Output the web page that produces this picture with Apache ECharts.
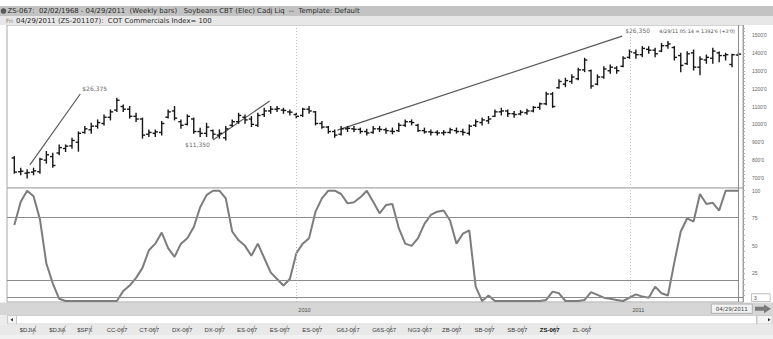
<!DOCTYPE html>
<html>
<head>
<meta charset="utf-8">
<script src="https://cdn.jsdelivr.net/npm/echarts@6.0.0/dist/echarts.min.js"></script>
<style>
  html, body { margin: 0; padding: 0; background: #ffffff; }
  #chart { width: 773px; height: 339px; }
</style>
</head>
<body>
<div id="chart"></div>
<script>
// Weekly soybean bars (ZS-067), first bar dated Friday 2009-02-27
const firstBar = [2009, 1, 27];

const opens = [812,735,727,733,735,800,820,840,865,880,900,955,970,990,1005,1040,1080,1100,1085,1045,
  1030,945,950,955,1040,1075,1015,1000,1030,960,950,965,940,925,995,1015,1040,1030,995,1055,
  1075,1085,1080,1070,1055,1050,1085,1070,1005,985,960,945,975,975,972,960,955,975,970,962,
  965,995,1015,995,965,958,955,952,955,965,960,950,995,1010,1020,1045,1070,1075,1060,1058,
  1065,1075,1095,1115,1170,1205,1225,1240,1255,1305,1300,1225,1265,1300,1315,1325,1375,1400,1390,1420,
  1415,1410,1440,1430,1385,1340,1400,1320,1360,1370,1400,1385,1335,1388];
const highs = [820,755,746,755,811,848,838,885,885,923,958,988,1006,1025,1053,1081,1146,1109,1100,1062,
  1035,969,969,1016,1081,1100,1025,1053,1035,979,1006,969,969,988,1025,1062,1053,1044,1062,1090,
  1100,1100,1090,1081,1062,1090,1100,1072,1016,988,969,988,988,988,979,973,988,988,979,979,
  1006,1025,1025,1000,979,969,965,965,979,979,973,997,1025,1035,1044,1081,1090,1081,1072,1077,
  1085,1100,1120,1180,1178,1249,1258,1277,1314,1370,1304,1277,1323,1332,1323,1379,1416,1416,1435,1435,
  1426,1453,1463,1435,1398,1407,1416,1379,1388,1426,1405,1398,1392,1400];
const lows = [727,718,700,718,727,783,760,830,848,867,850,951,951,979,997,1025,1072,1072,1035,1016,
  923,932,932,941,1035,1025,979,997,951,932,932,923,923,913,988,1006,1006,988,988,1044,
  1062,1072,1062,1053,1035,1044,1062,997,979,951,928,940,960,960,951,941,951,960,951,947,
  960,988,997,960,951,941,941,941,951,951,941,941,988,997,1006,1044,1053,1044,1040,1053,
  1057,1070,1085,1110,1095,1202,1211,1230,1249,1295,1202,1221,1258,1286,1286,1323,1370,1370,1379,1398,
  1379,1407,1426,1360,1295,1335,1304,1277,1342,1342,1351,1360,1323,1385];
const closes = [733,738,730,740,805,830,770,870,878,910,950,975,990,1010,1040,1070,1135,1085,1045,1030,
  940,955,958,1005,1070,1035,995,1045,960,950,985,945,950,975,1015,1050,1025,1000,1050,1075,
  1085,1088,1078,1068,1045,1085,1075,1005,985,960,940,975,978,972,960,952,975,972,965,960,
  995,1015,1010,965,958,955,952,955,970,960,955,990,1015,1025,1030,1070,1075,1060,1055,1068,
  1075,1095,1115,1170,1100,1240,1245,1265,1305,1360,1215,1265,1310,1320,1300,1370,1405,1390,1425,1415,
  1395,1440,1450,1375,1330,1395,1320,1365,1375,1410,1385,1390,1389.75,1392.75];

// COT Commercials Index, one reading per weekly bar
const cotIndex = [69,90,100,95,74,34,16,2,0,0,0,0,0,0,0,0,0,9,14,21,
  30,46,52,62,48,40,52,57,67,85,96,100,100,93,63,55,50,41,52,39,
  26,20,14,20,43,52,57,81,93,100,100,97,88.5,89.5,94,100,90,79.5,87,88,
  66,52,50,57,70,78,81,82,73,52,61,64,13,0,5,0,0,0,0,0,
  0,0,0,1,8.5,7,0,0,0,1,8,5.5,3,2,1,0,3,6,4,3,
  13,7,5,35,63,75,72,97,88,89,82,100,100,100];

const priceTicks = [700, 800, 900, 1000, 1100, 1200, 1300, 1400, 1500];
const cotTicks = [25, 50, 75, 100];
const cotLevels = [76, 19, 3];
const yearMarks = [2010, 2011];

// Hand-drawn trend lines: [year, month(0-based), day, price] at each end
const trendFrom = [[2009, 2, 16, 773], [2009, 9, 2, 913], [2010, 1, 15, 968]];
const trendTo = [[2009, 4, 10, 1170], [2009, 11, 3, 1131], [2010, 11, 23, 1494]];
const trendLabels = ['$26,375', '$11,350', '$26,350'];

const tabLabels = ['$DJIA', '$DJIA', '$SPX', 'CC-067', 'CT-067', 'DX-067', 'DX-067', 'ES-067', 'ES-067',
  'ES-067', 'G6J-067', 'G6S-067', 'NG3-067', 'ZB-067', 'SB-067', 'SB-067', 'ZS-067', 'ZL-067'];
const activeTab = 'ZS-067';

const titleText = 'ZS-067:  02/02/1968 - 04/29/2011  (Weekly bars)   Soybeans CBT (Elec) Cadj Liq  --  Template: Default';
const subText = '04/29/2011 (ZS-201107):  COT Commercials Index= 100';
const cursorText = "4/29/11 05:14 = 1392'6 (+3'0)";
const cursorDate = '04/29/2011';

// ---- build ----
const weeks = opens.map((_, i) => new Date(firstBar[0], firstBar[1], firstBar[2] + 7 * i).getTime());
const lastWeek = weeks[weeks.length - 1];
const xMin = new Date(2009, 1, 19).getTime();
const xMax = new Date(2011, 4, 4).getTime();
const toTime = a => new Date(a[0], a[1], a[2]).getTime();

const SANS = '"Liberation Sans", Arial, sans-serif';
const WIDE = '"DejaVu Sans", Verdana, sans-serif';
const ohlc = weeks.map((t, i) => [t, opens[i], highs[i], lows[i], closes[i]]);
const cot = weeks.map((t, i) => [t, cotIndex[i]]);

function renderBar(params, api) {
  const t = api.value(0);
  const o = api.coord([t, api.value(1)]);
  const h = api.coord([t, api.value(2)]);
  const l = api.coord([t, api.value(3)]);
  const c = api.coord([t, api.value(4)]);
  const w = 2.7;
  const style = { stroke: '#161616', lineWidth: 1.4 };
  return {
    type: 'group',
    children: [
      { type: 'line', shape: { x1: h[0], y1: h[1] - 0.5, x2: l[0], y2: l[1] + 0.5 }, style },
      { type: 'line', shape: { x1: o[0] - w, y1: o[1], x2: o[0], y2: o[1] }, style },
      { type: 'line', shape: { x1: c[0], y1: c[1], x2: c[0] + w, y2: c[1] }, style }
    ]
  };
}

const yearLines = yearMarks.map(y => ({ xAxis: new Date(y, 0, 1).getTime() }));
const dottedStyle = { color: '#c2c2c2', type: [1, 2], width: 1 };

const trendSeries = trendFrom.map((f, k) => {
  const labelCfg = [
    { position: 'right', distance: 2, offset: [0, -5] },
    { position: 'left', distance: 3, offset: [0, 5] },
    { position: 'right', distance: 3, offset: [0, -5.5] }
  ][k];
  const labelled = {
    show: true, formatter: trendLabels[k], color: '#6a6a6a', fontSize: 6, fontFamily: WIDE,
    position: labelCfg.position, distance: labelCfg.distance, offset: labelCfg.offset
  };
  const a = { value: [toTime(f), f[3]] };
  const b = { value: [toTime(trendTo[k]), trendTo[k][3]] };
  if (k === 1) a.label = labelled; else b.label = labelled;
  return {
    type: 'line', xAxisIndex: 0, yAxisIndex: 0, data: [a, b],
    symbol: 'circle', symbolSize: 0.1, showSymbol: true,
    lineStyle: { color: '#5a5a5a', width: 1.2 }, itemStyle: { color: '#5a5a5a' },
    label: { show: false }, silent: true, z: 3
  };
});

// bottom tab strip
const tabGraphics = [];
let tx = 5;
tabLabels.forEach(s => {
  const w = s.length * 3.1 + 14;
  tabGraphics.push({
    type: 'text', left: tx + w / 2, top: 326.6, z: 20,
    style: { text: s, x: 0, y: 0, align: 'center', fill: s === activeTab ? '#111' : '#3c3c3c',
      font: (s === activeTab ? 'bold ' : '') + '6px ' + SANS }
  });
  tx += w;
  tabGraphics.push({
    type: 'line', z: 20,
    shape: { x1: tx - 1.5, y1: 334.5, x2: tx + 1.5, y2: 325.5 },
    style: { stroke: '#8f8f8f', lineWidth: 0.8 }
  });
});

const option = {
  animation: false,
  backgroundColor: '#ffffff',
  textStyle: { fontFamily: SANS },
  grid: [
    { left: 7, right: 30, top: 25, height: 163, show: true, borderColor: '#a8a8a8', borderWidth: 1, backgroundColor: '#ffffff' },
    { left: 7, right: 30, top: 188, height: 114, show: true, borderColor: '#a8a8a8', borderWidth: 1, backgroundColor: '#ffffff' }
  ],
  xAxis: [
    { type: 'time', gridIndex: 0, min: xMin, max: xMax, axisLine: { show: false }, axisTick: { show: false },
      axisLabel: { show: false }, splitLine: { show: false } },
    { type: 'time', gridIndex: 1, min: xMin, max: xMax, axisLine: { show: false }, axisTick: { show: false },
      splitLine: { show: false },
      axisLabel: {
        formatter: v => { const d = new Date(v); return (d.getMonth() === 0 && d.getDate() === 1) ? String(d.getFullYear()) : ''; },
        align: 'left', padding: [0, 0, 0, 2], fontSize: 5.6, color: '#505050', margin: 5,
        showMinLabel: false, showMaxLabel: false, hideOverlap: false
      } }
  ],
  yAxis: [
    { type: 'value', gridIndex: 0, position: 'right', min: 644, max: 1556,
      axisLine: { show: true, lineStyle: { color: '#9a9a9a' } }, splitLine: { show: false },
      axisTick: { show: true, customValues: Array.from({ length: 45 }, (_, i) => 660 + i * 20), length: 2, lineStyle: { color: '#b0b0b0' } },
      axisLabel: { customValues: priceTicks, formatter: v => v + "'0", fontSize: 5, color: '#666', margin: 9 } },
    { type: 'value', gridIndex: 1, position: 'right', min: -0.9, max: 102.45,
      axisLine: { show: true, lineStyle: { color: '#9a9a9a' } }, splitLine: { show: false },
      axisTick: { show: true, customValues: Array.from({ length: 20 }, (_, i) => 5 + i * 5), length: 2, lineStyle: { color: '#b0b0b0' } },
      axisLabel: { customValues: cotTicks, fontSize: 5, color: '#666', margin: 9 } }
  ],
  series: [
    {
      type: 'custom', name: 'ZS-067', xAxisIndex: 0, yAxisIndex: 0, data: ohlc,
      encode: { x: 0, y: [1, 2, 3, 4] }, renderItem: renderBar, clip: true, z: 4, silent: true,
      markLine: {
        silent: true, symbol: ['none', 'none'], label: { show: false },
        data: [
          ...yearLines.map(d => Object.assign({ lineStyle: dottedStyle }, d)),
          { xAxis: lastWeek, lineStyle: { color: '#8a8a8a', type: 'solid', width: 1 } }
        ]
      }
    },
    ...trendSeries,
    {
      type: 'line', name: 'COT Commercials Index', xAxisIndex: 1, yAxisIndex: 1, data: cot,
      symbol: 'none', lineStyle: { color: '#7c7c7c', width: 2 }, silent: true, z: 4,
      markLine: {
        silent: true, symbol: ['none', 'none'],
        data: [
          ...yearLines.map(d => Object.assign({ lineStyle: dottedStyle, label: { show: false } }, d)),
          { xAxis: lastWeek, lineStyle: { color: '#8a8a8a', type: 'solid', width: 1 }, label: { show: false } },
          ...cotLevels.map(v => [
            { coord: [xMin, v], lineStyle: { color: '#8c8c8c', type: 'solid', width: 1 },
              label: v === 3 ? { show: true, position: 'end', distance: 9, formatter: String(v), fontSize: 5, color: '#444',
                backgroundColor: '#ffffff', borderColor: '#999', borderWidth: 0.6, padding: [1, 13, 1, 2] } : { show: false } },
            { coord: [v === 3 ? xMax : lastWeek, v] }
          ])
        ]
      }
    }
  ],
  graphic: [
    // window header
    { type: 'rect', z: 10, shape: { x: 0, y: 6, width: 773, height: 10 }, style: { fill: '#c3c3c3' } },
    { type: 'rect', z: 10, shape: { x: 0, y: 16, width: 773, height: 9 }, style: { fill: '#e7e7e7' } },
    { type: 'circle', z: 11, shape: { cx: 3.5, cy: 11, r: 2.8 }, style: { fill: '#5a5a5a' } },
    { type: 'text', z: 11, left: 7.5, top: 7.3, style: { text: titleText, fill: '#2a2a2a', font: '6.9px ' + WIDE } },
    { type: 'text', z: 11, left: 6, top: 17.6, style: { text: 'Fri', fill: '#777', font: '5.8px ' + WIDE } },
    { type: 'text', z: 11, left: 16, top: 17.1, style: { text: subText, fill: '#2a2a2a', font: '6.9px ' + WIDE } },
    ...['S', 'P', '\u25A1'].map((s, i) => ({
      type: 'group', z: 11, left: 747 + i * 8.3, top: 9,
      children: [
        { type: 'rect', shape: { x: 0, y: 0, width: 7.5, height: 7 }, style: { fill: '#dcdcdc', stroke: '#9a9a9a', lineWidth: 0.5 } },
        { type: 'text', style: { text: s, x: 3.75, y: 3.6, align: 'center', verticalAlign: 'middle', fill: '#444', font: '5px ' + SANS } }
      ]
    })),
    // cursor readout
    { type: 'text', z: 12, right: 773 - 736, top: 28.2,
      style: { text: cursorText, fill: '#4a4a4a', font: '4.9px ' + WIDE, backgroundColor: '#ffffff', padding: [0, 1, 0, 0] } },
    // date axis strip
    { type: 'rect', z: -1, shape: { x: 0, y: 302.5, width: 773, height: 12.5 }, style: { fill: '#d6d6d6' } },
    { type: 'group', z: 12, left: 711, top: 303.8,
      children: [
        { type: 'rect', shape: { x: 0, y: 0, width: 41, height: 9.2 }, style: { fill: '#f2f2f2', stroke: '#8f8f8f', lineWidth: 0.6 } },
        { type: 'text', style: { text: cursorDate, x: 20.5, y: 4.8, align: 'center', verticalAlign: 'middle', fill: '#444', font: '5.6px ' + WIDE } }
      ] },
    { type: 'polygon', z: 12, shape: { points: [[755, 306.8], [764, 306.8], [764, 304.4], [771, 308.8], [764, 313.2], [764, 310.8], [755, 310.8]] },
      style: { fill: '#7a7a7a' } },
    // scrollbar
    { type: 'rect', z: 12, shape: { x: 0, y: 315, width: 773, height: 9.5 }, style: { fill: '#ececec' } },
    { type: 'rect', z: 12, shape: { x: 16.5, y: 315.5, width: 740, height: 8.5 }, style: { fill: '#ffffff', stroke: '#b5b5b5', lineWidth: 0.6 } },
    { type: 'rect', z: 12, shape: { x: 7.5, y: 315.5, width: 9, height: 8.5 }, style: { fill: '#f4f4f4', stroke: '#b5b5b5', lineWidth: 0.6 } },
    { type: 'polygon', z: 13, shape: { points: [[10.5, 319.8], [13, 318], [13, 321.6]] }, style: { fill: '#333' } },
    { type: 'rect', z: 12, shape: { x: 757, y: 315.5, width: 15, height: 8.5 }, style: { fill: '#f4f4f4', stroke: '#b5b5b5', lineWidth: 0.6 } },
    { type: 'polygon', z: 13, shape: { points: [[770.5, 319.8], [768, 318], [768, 321.6]] }, style: { fill: '#333' } },
    // tabs
    { type: 'rect', z: 12, shape: { x: 0, y: 324.5, width: 773, height: 14.5 }, style: { fill: '#e9e9e9' } },
    { type: 'rect', z: 12, shape: { x: 0, y: 335, width: 773, height: 4 }, style: { fill: '#f1f1f1' } },
    ...tabGraphics
  ]
};

const chart = echarts.init(document.getElementById('chart'), null, { renderer: 'svg', width: 773, height: 339 });
chart.setOption(option);
</script>
</body>
</html>
